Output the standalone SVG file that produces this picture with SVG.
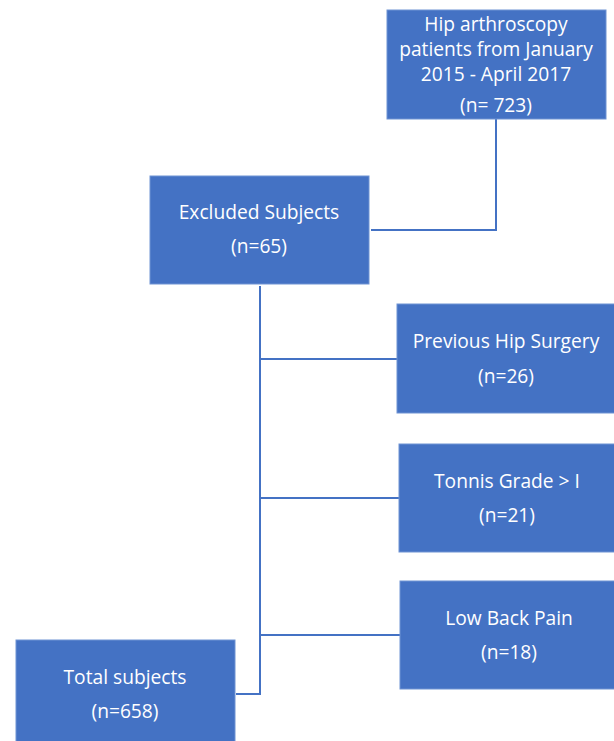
<svg xmlns="http://www.w3.org/2000/svg" width="614" height="741" viewBox="0 0 614 741">
<style>
.box{fill:#4472C4;stroke:#6F93D3;stroke-width:1}
.t{fill:#fff;font-family:"Open Sans","Liberation Sans",sans-serif;font-size:19.2px;text-anchor:middle}
.c{fill:none;stroke:#4472C4;stroke-width:2}
</style>
<rect width="614" height="741" fill="#fff"/>
<g id="connectors">
<path class="c" d="M496 119 V230 H371"/>
<path class="c" d="M260 286 V694 H236"/>
<path class="c" d="M260 359 H397"/>
<path class="c" d="M260 498 H399"/>
<path class="c" d="M260 635 H400"/>
</g>
<g id="hip">
<rect class="box" x="387" y="10" width="219" height="109"/>
<text class="t" x="496" y="31">Hip arthroscopy</text>
<text class="t" x="496" y="56">patients from January</text>
<text class="t" x="496" y="81">2015 - April 2017</text>
<text class="t" x="496" y="112">(n= 723)</text>
</g>
<g id="excluded">
<rect class="box" x="150" y="176" width="219" height="108"/>
<text class="t" x="259" y="219">Excluded Subjects</text>
<text class="t" x="259" y="253">(n=65)</text>
</g>
<g id="surgery">
<rect class="box" x="397" y="304" width="218" height="109"/>
<text class="t" x="506" y="348">Previous Hip Surgery</text>
<text class="t" x="506" y="383">(n=26)</text>
</g>
<g id="tonnis">
<rect class="box" x="399" y="444" width="216" height="108"/>
<text class="t" x="507" y="488">Tonnis Grade &gt; I</text>
<text class="t" x="507" y="522">(n=21)</text>
</g>
<g id="backpain">
<rect class="box" x="400" y="581" width="215" height="108"/>
<text class="t" x="509" y="625">Low Back Pain</text>
<text class="t" x="509" y="659">(n=18)</text>
</g>
<g id="total">
<rect class="box" x="16" y="640" width="219" height="102"/>
<text class="t" x="125" y="684">Total subjects</text>
<text class="t" x="125" y="718">(n=658)</text>
</g>
</svg>
